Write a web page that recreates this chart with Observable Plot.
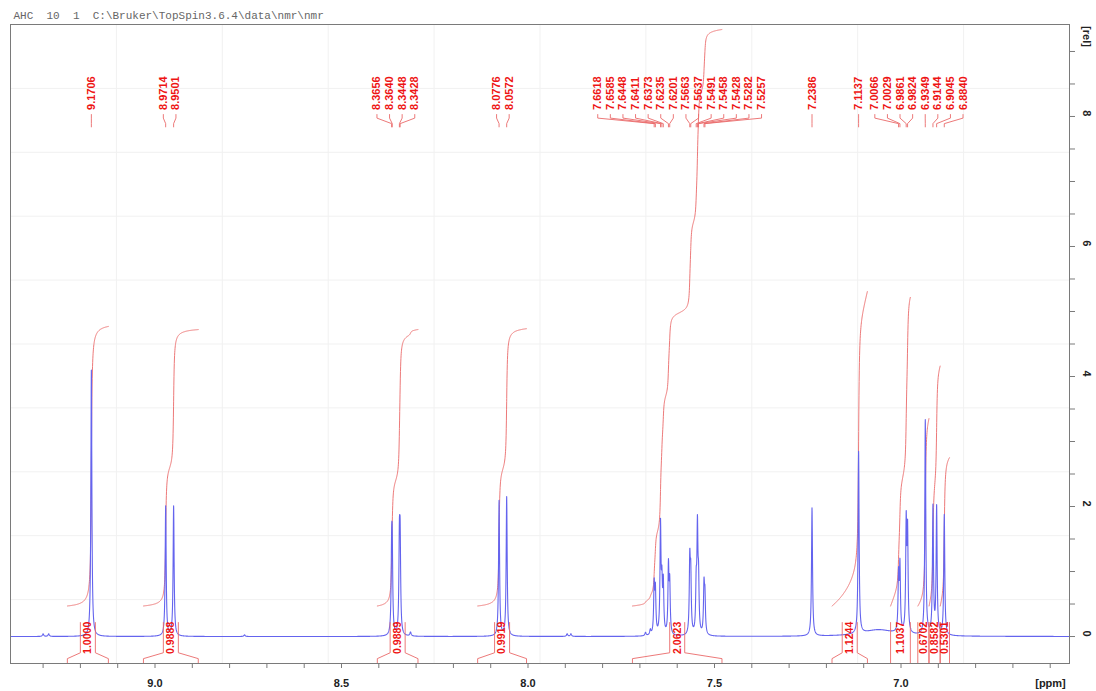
<!DOCTYPE html>
<html><head><meta charset="utf-8">
<script src="https://cdn.jsdelivr.net/npm/d3@7"></script>
<script src="https://cdn.jsdelivr.net/npm/@observablehq/plot@0.6"></script>
<style>body{margin:0;background:#fff;} #chart svg{display:block}</style>
</head><body><div id="chart"></div>
<script>
// ---------- data ----------
const headerText = "AHC  10  1  C:\\Bruker\\TopSpin3.6.4\\data\\nmr\\nmr";
// labelled peaks (ppm) and their heights [rel]
const peakPpm = [9.1706, 8.9714, 8.9501, 8.3656, 8.3640, 8.3448, 8.3428, 8.0776, 8.0572,
  7.6618, 7.6585, 7.6448, 7.6411, 7.6373, 7.6235, 7.6201, 7.5663, 7.5637, 7.5491, 7.5458,
  7.5428, 7.5282, 7.5257, 7.2386, 7.1137, 7.0066, 7.0029, 6.9861, 6.9824, 6.9349, 6.9144,
  6.9045, 6.8840];
const peakHeight = [4.1, 2.0, 2.0, 1.1, 1.1, 1.29, 1.29, 2.08, 2.14,
  0.75, 0.65, 1.65, 0.7, 0.75, 1.03, 0.75, 1.1, 0.85, 0.7, 1.55,
  0.75, 0.72, 0.55, 1.97, 2.8, 0.85, 1.0, 1.65, 1.5, 3.3, 1.95,
  1.95, 1.85];
// small unlabelled features of the baseline
const minorPpm = [9.300, 9.285, 8.760, 8.315, 7.895, 7.885, 7.685, 7.672];
const minorHeight = [0.04, 0.04, 0.025, 0.06, 0.04, 0.04, 0.05, 0.08];
const broadPpm = [7.06];
const broadHeight = [0.1];
// integrals
const integValue = [1.0000, 0.9888, 0.9889, 0.9919, 2.0623, 1.1244, 1.1037, 0.6702, 0.8582, 0.5301];
const integFrom  = [9.235, 9.031, 8.404, 8.135, 7.720, 7.185, 7.028, 6.955, 6.925, 6.895];
const integTo    = [9.125, 8.884, 8.295, 8.004, 7.480, 7.090, 6.975, 6.925, 6.895, 6.870];
// axes
const xTickLabels = [9.0, 8.5, 8.0, 7.5, 7.0];
const yTickLabels = [0, 2, 4, 6, 8];

// ---------- layout ----------
const W = 1096, H = 691;
const mL = 10, mR = 27, mT = 24, mB = 28;
const xDomain = [9.3874, 6.5483];
const yDomain = [-0.415, 9.415];
const xs = d3.scaleLinear().domain(xDomain).range([mL, W - mR]);
const RED = "#ee1414", RED_LINE = "#ea6a6a", BLUE = "#6464ee";
const FONT = "Liberation Sans, Arial, sans-serif";

// ---------- spectrum from peak list (Lorentzian lines) ----------
const gamma = 0.0016;
const lines = peakPpm.map((p, i) => ({p, h: peakHeight[i], g: gamma}))
  .concat(minorPpm.map((p, i) => ({p, h: minorHeight[i], g: 0.002})))
  .concat(broadPpm.map((p, i) => ({p, h: broadHeight[i], g: 0.05})));
const grid = d3.range(xDomain[1], xDomain[0], 0.0004).concat(peakPpm, minorPpm).sort((a, b) => b - a);
const spec = grid.map(x => ({x, y: d3.sum(lines, k => k.h / (1 + ((x - k.p) / k.g) ** 2))}));

// ---------- integral curves ----------
const K = 4.3, base = 0.47;
const integCurves = [];
integValue.forEach((v, i) => {
  const pts = spec.filter(d => d.x <= integFrom[i] && d.x >= integTo[i]);
  let cum = 0; const c = [0];
  for (let j = 1; j < pts.length; j++) {
    cum += (pts[j - 1].y + pts[j].y) / 2 * Math.abs(pts[j].x - pts[j - 1].x);
    c.push(cum);
  }
  pts.forEach((d, j) => integCurves.push({x: d.x, y: base + c[j] / cum * v * K, k: i}));
});

// ---------- integral brackets ----------
const yBot = yDomain[0], yLegEnd = -0.34, yLegStart = -0.25, yBoxTop = 0.215;
const boxHalf = 7.5 / 373;
const brackets = [];
const integLabels = [];
integValue.forEach((v, i) => {
  const a = integFrom[i], b = integTo[i], mid = (a + b) / 2;
  const wide = (a - b) > 0.06;
  const bl = wide ? mid + boxHalf : a, br = wide ? mid - boxHalf : b;
  const left = wide ? [[a, yBot], [a, yLegEnd], [bl, yLegStart], [bl, yBoxTop]] : [[a, yBot], [a, yBoxTop]];
  const right = wide ? [[b, yBot], [b, yLegEnd], [br, yLegStart], [br, yBoxTop]] : [[b, yBot], [b, yBoxTop]];
  left.forEach(([x, y]) => brackets.push({x, y, k: "L" + i}));
  right.forEach(([x, y]) => brackets.push({x, y, k: "R" + i}));
  integLabels.push({x: mid, y: -0.02, t: v.toFixed(4)});
});

// ---------- peak label placement (spread overlapping labels) ----------
const gap = 12.6;
const px = peakPpm.map(p => xs(p));
let clusters = px.map((p, i) => ({idx: [i], sum: p}));
let merged = true;
const bounds = c => { const n = c.idx.length, cen = c.sum / n; return [cen - (n - 1) * gap / 2, cen + (n - 1) * gap / 2]; };
while (merged) {
  merged = false;
  const out = [];
  for (const c of clusters) {
    const prev = out[out.length - 1];
    if (prev && bounds(c)[0] - bounds(prev)[1] < gap) {
      prev.idx = prev.idx.concat(c.idx); prev.sum += c.sum; merged = true;
    } else out.push({idx: c.idx.slice(), sum: c.sum});
  }
  clusters = out;
}
const labelPx = new Array(px.length);
clusters.forEach(c => { const [lo] = bounds(c); c.idx.forEach((id, j) => labelPx[id] = lo + j * gap); });
const peakLabels = peakPpm.map((p, i) => ({x: xs.invert(labelPx[i]), t: p.toFixed(4)}));
const connectors = [];
peakPpm.forEach((p, i) => {
  const lx = xs.invert(labelPx[i]);
  [[lx, 8.03], [lx, 7.975], [p, 7.89], [p, 7.84]].forEach(([x, y]) => connectors.push({x, y, k: i}));
});

// ---------- grid & ticks ----------
const gridX = d3.range(1, 10).map(i => xDomain[0] + (xDomain[1] - xDomain[0]) * i / 10);
const gridY = d3.range(1, 10).map(i => yDomain[0] + (yDomain[1] - yDomain[0]) * i / 10);
const xMinor = d3.range(66, 94).map(i => i / 10);
const yMinor = d3.range(0, 19).map(i => i / 2);

const chart = Plot.plot({
  width: W, height: H,
  marginLeft: mL, marginRight: mR, marginTop: mT, marginBottom: mB,
  style: {fontFamily: FONT, background: "#fff"},
  x: {domain: xDomain, label: null},
  y: {domain: yDomain, label: null},
  marks: [
    Plot.ruleX(gridX, {stroke: "#f1f1f1", strokeWidth: 1}),
    Plot.ruleY(gridY, {stroke: "#f1f1f1", strokeWidth: 1}),
    Plot.line(integCurves, {x: "x", y: "y", z: "k", stroke: RED_LINE, strokeWidth: 0.9}),
    Plot.line(spec, {x: "x", y: "y", stroke: BLUE, strokeWidth: 1.1}),
    Plot.line(brackets, {x: "x", y: "y", z: "k", stroke: RED_LINE, strokeWidth: 0.9}),
    Plot.text(integLabels, {x: "x", y: "y", text: "t", rotate: -90, fill: RED, fontSize: 10.5, fontWeight: "bold", textAnchor: "middle", lineAnchor: "middle"}),
    Plot.line(connectors, {x: "x", y: "y", z: "k", stroke: RED_LINE, strokeWidth: 0.9}),
    Plot.text(peakLabels, {x: "x", y: 8.1, text: "t", rotate: -90, fill: RED, fontSize: 11, fontWeight: "bold", textAnchor: "start", lineAnchor: "middle"}),
    Plot.frame({stroke: "#7a7a7a"}),
    Plot.axisX({anchor: "bottom", ticks: xMinor, tickSize: 5, tickFormat: () => "", label: null, stroke: "#7a7a7a"}),
    Plot.axisY({anchor: "right", ticks: yMinor, tickSize: 5, tickFormat: () => "", label: null, stroke: "#7a7a7a"}),
    Plot.text(xTickLabels, {x: d => d, frameAnchor: "bottom", dy: 20, text: d => d.toFixed(1), fontSize: 11, fontWeight: "bold", fill: "#222", lineAnchor: "middle"}),
    Plot.text(yTickLabels, {y: d => d, frameAnchor: "right", dx: 17, text: d => String(d), rotate: 90, fontSize: 11, fontWeight: "bold", fill: "#222", lineAnchor: "middle"}),
    Plot.text(["[rel]"], {frameAnchor: "top-right", dx: 17, dy: 12, text: d => d, rotate: 90, fontSize: 11, fontWeight: "bold", fill: "#222", lineAnchor: "middle", textAnchor: "middle"}),
    Plot.text(["[ppm]"], {frameAnchor: "bottom-right", dx: -19, dy: 20, text: d => d, fontSize: 11, fontWeight: "bold", fill: "#222", lineAnchor: "middle", textAnchor: "middle"}),
    Plot.text([headerText], {frameAnchor: "top-left", dx: 3, dy: -9, text: d => d, fontFamily: "Liberation Mono, DejaVu Sans Mono, monospace", fontSize: 11, fill: "#666", textAnchor: "start", lineAnchor: "middle"})
  ]
});
document.getElementById("chart").appendChild(chart);
</script></body></html>
